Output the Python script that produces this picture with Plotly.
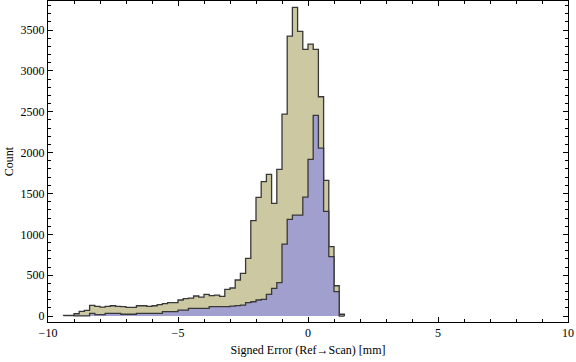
import plotly.graph_objects as go

# Histogram bins: start of first bin and bin width (units: mm)
bin_start = -9.4
bin_width = 0.2

# Counts per bin (outer, tan series)
counts_all = [8, 8, 28, 57, 69, 131, 118, 110, 118, 126,
              118, 114, 106, 106, 126, 126, 118, 126, 139, 151,
              163, 163, 196, 212, 220, 245, 232, 265, 249, 257,
              241, 327, 343, 441, 522, 706, 1167, 1453, 1644, 1734,
              1379, 1796, 2472, 3427, 3778, 3484, 3264, 3329, 3264, 2684,
              1661, 850, 371, 22]

# Counts per bin (inner, purple series)
counts_sub = [5, 5, 3, 3, 3, 33, 18, 18, 33, 33,
              33, 22, 22, 22, 33, 33, 33, 33, 33, 53,
              53, 53, 73, 73, 94, 94, 94, 94, 114, 114,
              114, 114, 122, 128, 134, 163, 175, 196, 204, 265,
              339, 408, 881, 1183, 1236, 1236, 1455, 1918, 2456, 2054,
              1281, 726, 300, 0]

x_ticks = [-10, -5, 0, 5, 10]
y_ticks = [0, 500, 1000, 1500, 2000, 2500, 3000, 3500]

n = len(counts_all)
edges = [round(bin_start + i * bin_width, 4) for i in range(n + 1)]


def step_path(vals):
    xs = [edges[0]] + edges[:n] + [edges[n], edges[n]]
    ys = [0] + list(vals) + [vals[-1], 0]
    return xs, ys


fig = go.Figure()
for vals, fill in [(counts_all, "#CCC8A1"), (counts_sub, "#A19FCE")]:
    xs, ys = step_path(vals)
    fig.add_trace(go.Scatter(
        x=xs, y=ys, mode="lines", line=dict(shape="hv", color="#383838", width=1.3),
        fill="tozeroy", fillcolor=fill, hoverinfo="skip", showlegend=False))

font = dict(family="Liberation Serif, Times New Roman, serif", size=12, color="#000")
axis_common = dict(showgrid=False, zeroline=False, showline=True, linecolor="#000",
                   linewidth=1, mirror="ticks", ticks="inside", ticklen=5,
                   tickcolor="#000", tickwidth=1, tickfont=font)

fig.update_xaxes(range=[-10, 10], tickvals=x_ticks,
                 minor=dict(ticks="inside", dtick=1, ticklen=3, tickcolor="#000"),
                 title=dict(text="Signed Error (Ref→Scan) [mm]", font=font, standoff=6),
                 **axis_common)
fig.update_yaxes(range=[-73, 3856], tickvals=y_ticks,
                 minor=dict(ticks="inside", dtick=100, ticklen=3, tickcolor="#000"),
                 title=dict(text="Count", font=font, standoff=4),
                 **axis_common)

fig.update_layout(width=576, height=362, margin=dict(l=48, r=8, t=1, b=40),
                  paper_bgcolor="white", plot_bgcolor="white", font=font)

fig.write_html("out.html", config={"displayModeBar": False},
               post_script="document.body.style.margin='0';document.body.style.overflow='hidden';")
